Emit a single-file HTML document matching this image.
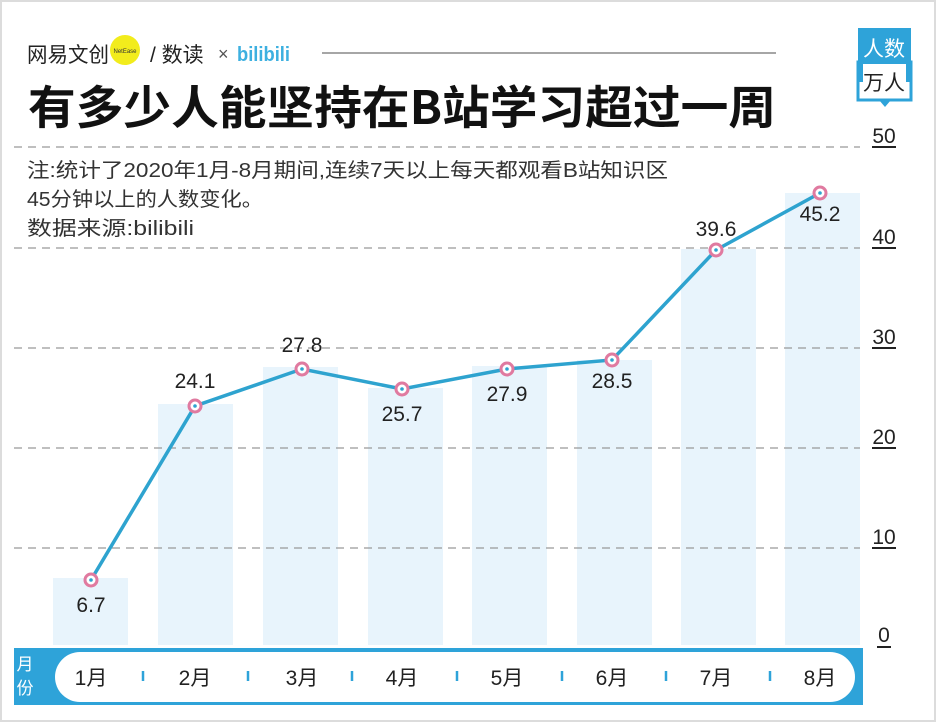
<!DOCTYPE html>
<html><head><meta charset="utf-8"><style>
body{margin:0;width:936px;height:722px;overflow:hidden;background:#fff;font-family:"Liberation Sans","Noto Sans CJK SC",sans-serif}
.b{position:absolute;border:2px solid #dcdcdc;left:0;top:0;width:932px;height:718px}
</style></head><body>
<div class="b"></div>
<svg width="936" height="722" style="position:absolute;left:0;top:0" font-family="Liberation Sans, Noto Sans CJK SC, sans-serif">
<!-- header -->
<text x="27" y="62" font-size="21" fill="#222" textLength="82" lengthAdjust="spacingAndGlyphs">网易文创</text>
<circle cx="125" cy="50" r="15" fill="#f2ec1c"/>
<text x="125" y="53" font-size="6" text-anchor="middle" fill="#333">NetEase</text>
<text x="150" y="62" font-size="21" fill="#222">/ 数读</text>
<text x="218" y="60" font-size="18" fill="#555">×</text>
<text x="237" y="61" font-size="20" font-weight="bold" fill="#3db0e0" textLength="53" lengthAdjust="spacingAndGlyphs">bilibili</text>
<line x1="322" y1="53" x2="776" y2="53" stroke="#888" stroke-width="1.5"/>
<text x="28" y="124" font-size="46" font-weight="bold" fill="#111" font-family="Noto Sans CJK SC, sans-serif" textLength="748" lengthAdjust="spacingAndGlyphs">有多少人能坚持在B站学习超过一周</text>
<!-- unit box -->
<rect x="858" y="28" width="53" height="54" fill="#2ea3d9"/>
<text x="884" y="56" font-size="21" fill="#fff" text-anchor="middle">人数</text>
<rect x="863" y="64" width="43" height="34" fill="#fff"/>
<rect x="858" y="62" width="53" height="38" fill="none" stroke="#2ea3d9" stroke-width="3"/>
<polygon points="879,100 891,100 885,107" fill="#2ea3d9"/>
<text x="884" y="90" font-size="21" fill="#222" text-anchor="middle">万人</text>
<!-- note -->
<text x="27" y="177" font-size="20" fill="#333" textLength="641" lengthAdjust="spacingAndGlyphs">注:统计了2020年1月-8月期间,连续7天以上每天都观看B站知识区</text>
<text x="27" y="206" font-size="20" fill="#333" textLength="236" lengthAdjust="spacingAndGlyphs">45分钟以上的人数变化。</text>
<text x="27" y="235" font-size="20" fill="#333" textLength="167" lengthAdjust="spacingAndGlyphs">数据来源:bilibili</text>
<!-- bars -->
<g fill="#e8f4fc">
<rect x="53" y="578" width="75" height="67"/>
<rect x="158" y="404" width="75" height="241"/>
<rect x="263" y="367" width="75" height="278"/>
<rect x="368" y="388" width="75" height="257"/>
<rect x="472" y="366" width="75" height="279"/>
<rect x="577" y="360" width="75" height="285"/>
<rect x="681" y="249" width="75" height="396"/>
<rect x="785" y="193" width="75" height="452"/>
</g>
<!-- grid -->
<g stroke="#999" stroke-width="1.2" stroke-dasharray="8,6">
<line x1="14" y1="147" x2="860" y2="147"/>
<line x1="14" y1="248" x2="860" y2="248"/>
<line x1="14" y1="348" x2="860" y2="348"/>
<line x1="14" y1="448" x2="860" y2="448"/>
<line x1="14" y1="548" x2="860" y2="548"/>
</g>
<g font-size="21" fill="#222" text-anchor="middle">
<text x="884" y="143">50</text><line x1="872" y1="147" x2="896" y2="147" stroke="#222" stroke-width="2"/>
<text x="884" y="244">40</text><line x1="872" y1="248" x2="896" y2="248" stroke="#222" stroke-width="2"/>
<text x="884" y="344">30</text><line x1="872" y1="348" x2="896" y2="348" stroke="#222" stroke-width="2"/>
<text x="884" y="444">20</text><line x1="872" y1="448" x2="896" y2="448" stroke="#222" stroke-width="2"/>
<text x="884" y="544">10</text><line x1="872" y1="548" x2="896" y2="548" stroke="#222" stroke-width="2"/>
<text x="884" y="642">0</text><line x1="877" y1="647" x2="891" y2="647" stroke="#222" stroke-width="2"/>
</g>
<!-- line -->
<polyline points="91,580 195,406 302,369 402,389 507,369 612,360 716,250 820,193" fill="none" stroke="#2ea3cf" stroke-width="3.5"/>
<g fill="#fff" stroke="#e07aa0" stroke-width="3">
<circle cx="91" cy="580" r="6"/><circle cx="195" cy="406" r="6"/><circle cx="302" cy="369" r="6"/><circle cx="402" cy="389" r="6"/><circle cx="507" cy="369" r="6"/><circle cx="612" cy="360" r="6"/><circle cx="716" cy="250" r="6"/><circle cx="820" cy="193" r="6"/>
</g>
<g fill="#2ea3cf"><circle cx="91" cy="580" r="1.8"/><circle cx="195" cy="406" r="1.8"/><circle cx="302" cy="369" r="1.8"/><circle cx="402" cy="389" r="1.8"/><circle cx="507" cy="369" r="1.8"/><circle cx="612" cy="360" r="1.8"/><circle cx="716" cy="250" r="1.8"/><circle cx="820" cy="193" r="1.8"/></g>
<g font-size="21" fill="#222" text-anchor="middle">
<text x="91" y="612">6.7</text><text x="195" y="388">24.1</text><text x="302" y="352">27.8</text><text x="402" y="421">25.7</text><text x="507" y="401">27.9</text><text x="612" y="388">28.5</text><text x="716" y="236">39.6</text><text x="820" y="221">45.2</text>
</g>
<!-- axis band -->
<rect x="14" y="648" width="849" height="57" fill="#2ea3d9"/>
<rect x="55" y="652" width="800" height="50" rx="25" fill="#fff"/>
<text x="25" y="670" font-size="17" fill="#fff" text-anchor="middle">月</text>
<text x="25" y="694" font-size="17" fill="#fff" text-anchor="middle">份</text>
<g font-size="21" fill="#222" text-anchor="middle">
<text x="91" y="685">1月</text><text x="195" y="685">2月</text><text x="302" y="685">3月</text><text x="402" y="685">4月</text><text x="507" y="685">5月</text><text x="612" y="685">6月</text><text x="716" y="685">7月</text><text x="820" y="685">8月</text>
</g>
<g stroke="#2ea3d9" stroke-width="2.5">
<line x1="143" y1="671" x2="143" y2="681"/><line x1="248" y1="671" x2="248" y2="681"/><line x1="352" y1="671" x2="352" y2="681"/><line x1="457" y1="671" x2="457" y2="681"/><line x1="562" y1="671" x2="562" y2="681"/><line x1="666" y1="671" x2="666" y2="681"/><line x1="770" y1="671" x2="770" y2="681"/>
</g>
</svg>
</body></html>
